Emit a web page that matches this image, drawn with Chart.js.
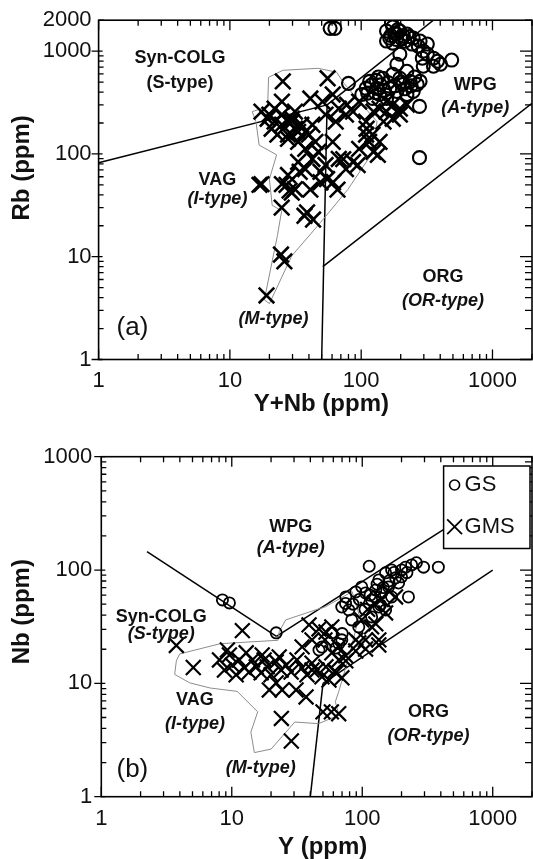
<!DOCTYPE html>
<html>
<head>
<meta charset="utf-8">
<script src="https://cdn.jsdelivr.net/npm/chart.js@4.4.1/dist/chart.umd.min.js"></script>
<style>
  html, body { margin: 0; padding: 0; background: #fff; overflow: hidden; }
  #wrap { position: relative; width: 533px; height: 859px; }
  canvas { position: absolute; left: 0; }
</style>
</head>
<body>
<div id="wrap">
  <canvas id="chartA" width="533" height="430" style="top:0"></canvas>
  <canvas id="chartB" width="533" height="429" style="top:430px"></canvas>
</div>
<script>
// Pearce granite discrimination plots: (a) Rb vs Y+Nb, (b) Nb vs Y

const FONT = '"Liberation Sans", Arial, Helvetica, sans-serif';

// ---- panel (a): Rb vs Y+Nb ----
const xTicksA = [1, 10, 100, 1000];
const yTicksA = [1, 10, 100, 1000, 2000];

const gsA = [
  [58, 1667], [63, 1667], [156, 1571], [174, 1716], [165, 1341], [187, 1468], [204, 1312],
  [174, 1198], [156, 1253], [197, 1571], [223, 1468], [249, 1341], [244, 1172], [272, 1120],
  [281, 1253], [297, 1000], [319, 935], [292, 854], [355, 854], [381, 798], [402, 746],
  [355, 713], [297, 713], [489, 819], [319, 1172], [197, 935], [187, 746], [116, 508],
  [131, 434], [109, 434], [122, 346], [146, 544], [138, 379], [165, 434], [156, 346],
  [101, 379], [174, 595], [197, 544], [208, 475], [223, 637], [236, 508], [249, 405],
  [267, 475], [223, 379], [187, 405], [281, 508], [80, 486], [278, 290], [278, 92], [170, 1877],
  [180, 1500], [190, 1620], [210, 1400], [168, 1420], [215, 1250], [232, 1390], [185, 1300],
  [120, 470], [130, 520], [140, 470], [150, 415], [128, 395], [160, 495], [112, 390], [135, 560],
  [180, 460], [200, 500], [215, 430], [240, 460], [255, 560]
];

const gmsA = [
  [25.3, 508], [55.5, 544], [17.4, 258], [19.4, 220], [21.9, 276], [24.9, 241], [27.7, 206],
  [24.9, 323], [31.3, 258], [20.8, 176], [27.7, 154], [33.1, 131], [31.3, 176], [37.5, 164],
  [42.5, 192], [37.5, 112], [44.8, 131], [41.0, 346], [50.8, 323], [60.7, 379], [53.5, 241],
  [67.5, 276], [64.0, 206], [76.5, 241], [17.4, 50.8], [24.9, 50.8], [27.7, 62.3], [31.3, 45.4],
  [33.1, 83.5], [37.5, 71.3], [42.5, 89.3], [47.2, 105], [53.5, 78.0], [60.7, 131], [67.5, 89.3],
  [76.5, 71.3], [86.7, 83.5], [96.5, 112], [109, 154], [115, 131], [124, 105], [86.7, 258],
  [96.5, 323], [109, 206], [124, 258], [138, 276], [156, 323], [197, 276], [148, 206],
  [78, 302], [110, 176], [122, 154], [138, 131], [134, 98], [156, 258], [174, 302], [223, 302],
  [73, 89], [34, 67], [41, 45], [49, 53], [24.8, 30], [27, 50], [29.6, 42], [38.7, 27],
  [43, 23], [24.5, 10.5], [26, 9], [19, 4.2], [61, 53], [66, 45], [49, 67], [55, 57], [94, 78],
  [37, 25], [28.5, 44], [16.8, 50], [21.9, 206], [24.9, 192], [29.7, 220], [33.1, 164],
  [27.7, 140], [23.0, 154], [29.7, 206], [35.0, 192], [40, 154], [20, 241], [174, 220], [197, 241]
];

// grey outline around the GMS field
const envelopeA = [
  [19.7, 556], [25.3, 651], [47, 681], [65, 623], [74, 486], [97, 323], [132, 206], [119, 98],
  [79, 45], [49, 21.5], [29.6, 10.2], [20, 3.5], [18.3, 3.8], [23, 16], [24.8, 28], [21, 31.6],
  [20, 57], [22.7, 98], [16.7, 122], [15.8, 206], [14.8, 258], [19.4, 289], [19.7, 556]
];

// field boundaries
const boundsA = [
  [[1, 82], [55, 300]],
  [[50, 1], [55, 300]],
  [[55, 300], [355, 2000]],
  [[51, 8], [2000, 310]]
];

const labelsA = [
  { text: 'Syn-COLG', x: 4.16, y: 857 },
  { text: '(S-type)', x: 4.16, y: 489 },
  { text: 'VAG', x: 8.03, y: 55.7 },
  { text: '(I-type)', x: 8.03, y: 36.7, italic: true },
  { text: 'WPG', x: 740, y: 468 },
  { text: '(A-type)', x: 740, y: 279, italic: true },
  { text: 'ORG', x: 420, y: 6.36 },
  { text: '(OR-type)', x: 420, y: 3.73, italic: true },
  { text: '(M-type)', x: 21.5, y: 2.45, italic: true },
  { text: '(a)', x: 1.81, y: 2.03, panel: true }
];

// ---- panel (b): Nb vs Y ----
const xTicksB = [1, 10, 100, 1000];
const yTicksB = [1, 10, 100, 1000];

const gsB = [
  [8.48, 54.5], [9.59, 51.3], [21.9, 27.9], [113, 108], [74.8, 57.9], [89.2, 64.1], [99.1, 71.0],
  [69.7, 47.2], [78.9, 44.5], [134, 81.8], [151, 94.4], [168, 100], [180, 85.3], [159, 71.0],
  [190, 76.9], [141, 62.8], [118, 54.5], [134, 47.2], [168, 57.9], [106, 62.8], [83.0, 36.3],
  [94.0, 31.5], [118, 38.6], [151, 44.5], [69.7, 24.2], [49.1, 20.9], [62.8, 20.5], [215, 106],
  [239, 111], [260, 116], [295, 106], [383, 106], [226, 57.9], [200, 87.1], [127, 66.7],
  [138, 49.2], [58.5, 27.9], [46.6, 19.7], [74.5, 50.7], [66.1, 22.4], [70.2, 27.5],
  [85, 50], [95, 55], [105, 45], [115, 60], [125, 58], [145, 70], [160, 80], [175, 95],
  [130, 75], [200, 100], [220, 95]
];

const gmsB = [
  [3.76, 21.6], [5.07, 13.8], [12.05, 29.2],
  [8.05, 16.1], [8.79, 13.1], [9.59, 17.8], [10.1, 14.5], [10.8, 11.9], [11.4, 16.1], [12.5, 13.7],
  [13.6, 12.6], [14.4, 16.1], [15.4, 14.0], [16.8, 12.4], [17.7, 16.1], [18.7, 14.0], [20.0, 11.9],
  [21.9, 15.5], [23.9, 13.1], [26.1, 14.5], [28.5, 12.6], [31.6, 16.1], [34.6, 13.7], [37.7, 11.9],
  [41.2, 15.1], [45.0, 13.1], [49.1, 11.4], [9.25, 19.7], [12.9, 18.6], [17.1, 17.8], [23.1, 17.1],
  [19.4, 8.75], [21.9, 10.1], [24.3, 8.75], [31.1, 8.75], [37.1, 7.59], [24, 4.9], [28.6, 3.1],
  [50, 5.6], [58, 5.6], [66, 5.4], [41.2, 13.1], [52.7, 14.0], [62.8, 12.4], [55.6, 10.7],
  [39.1, 32.8], [46.6, 30.2], [52.7, 28.4], [58.5, 31.5], [41.2, 24.2], [34.6, 21.0], [94.0, 22.8],
  [106, 20.1], [134, 21.8], [151, 41.8], [118, 31.5], [58.5, 18.6], [74.8, 17.5], [99.1, 36.3],
  [134, 24.2], [89.2, 24.2], [66.2, 16.1], [180, 57.9], [127, 33.5], [51.8, 24.2], [66.2, 21.0],
  [61.7, 12.9], [69.8, 11.2], [74.8, 15.8], [89.2, 19.3], [106, 24.2], [110, 45], [125, 50],
  [140, 55], [160, 65]
];

const envelopeB = [
  [3.76, 15.8], [3.99, 18.2], [8.17, 22.4], [22.6, 24.0], [23.1, 28.6], [25.9, 36.3], [36.9, 41.6],
  [52.4, 47.5], [83.6, 64.5], [95, 40], [80, 18], [66.1, 8.5], [62.2, 6.9], [66.1, 5.24],
  [46.2, 4.41], [30.4, 4.56], [20.0, 2.63], [14.9, 2.45], [14.0, 3.71], [15.8, 5.61], [11.0, 8.5],
  [6.83, 9.1], [4.77, 10.1], [3.65, 12.0], [3.76, 15.8]
];

const boundsB = [
  [[2.24, 145], [22, 26]],
  [[22, 26], [1000, 430]],
  [[40, 1], [50, 10]],
  [[50, 10], [1000, 100]]
];

const labelsB = [
  { text: 'WPG', x: 28.3, y: 242 },
  { text: '(A-type)', x: 28.3, y: 156, italic: true },
  { text: 'Syn-COLG', x: 2.88, y: 38.5 },
  { text: '(S-type)', x: 2.88, y: 27.5, italic: true },
  { text: 'VAG', x: 5.22, y: 7.15 },
  { text: '(I-type)', x: 5.22, y: 4.41, italic: true },
  { text: 'ORG', x: 322, y: 5.62 },
  { text: '(OR-type)', x: 322, y: 3.46, italic: true },
  { text: '(M-type)', x: 16.7, y: 1.80, italic: true },
  { text: '(b)', x: 1.73, y: 1.73, panel: true }
];

const seriesNames = ['GS', 'GMS'];

// ---- helpers ----
const toXY = arr => arr.map(p => ({ x: p[0], y: p[1] }));

function pointSets(gs, gms, big) {
  return [
    {
      label: seriesNames[0], data: toXY(gs), showLine: false,
      pointStyle: 'circle', pointRadius: big ? 6.5 : 5.6, borderWidth: big ? 2.1 : 1.8,
      borderColor: '#000', backgroundColor: 'rgba(0,0,0,0)'
    },
    {
      label: seriesNames[1], data: toXY(gms), showLine: false,
      pointStyle: 'crossRot', pointRadius: big ? 11 : 10.5, borderWidth: big ? 2.6 : 2.2,
      borderColor: '#000', backgroundColor: 'rgba(0,0,0,0)'
    }
  ];
}

function lineSets(envelope, bounds) {
  const sets = [{
    label: 'envelope', data: toXY(envelope), showLine: true, pointRadius: 0,
    borderColor: '#8c8c8c', borderWidth: 1, tension: 0, fill: false
  }];
  bounds.forEach((seg, i) => sets.push({
    label: 'boundary ' + i, data: toXY(seg), showLine: true, pointRadius: 0,
    borderColor: '#000', borderWidth: 1.5, tension: 0, fill: false
  }));
  return sets;
}

function logAxis(tickList, max, pad, fit) {
  return {
    type: 'logarithmic', min: 1, max: max,
    grid: { display: false, drawTicks: false },
    border: { display: false },
    afterBuildTicks: s => { s.ticks = tickList.map(v => ({ value: v })); },
    afterFit: fit,
    ticks: {
      font: { family: FONT, size: 22 }, color: '#111', padding: pad,
      autoSkip: false, maxRotation: 0, callback: v => String(v)
    }
  };
}

// frame, inward log ticks, text annotations and legend
const decor = {
  id: 'decor',
  afterDatasetsDraw(chart, args, opts) {
    const { ctx, scales: { x, y } } = chart;
    ctx.save();
    ctx.fillStyle = '#111';
    ctx.textAlign = 'center';
    ctx.textBaseline = 'middle';
    opts.labels.forEach(l => {
      ctx.font = l.panel ? `26px ${FONT}` : `${l.italic ? 'italic ' : ''}bold 18px ${FONT}`;
      ctx.fillText(l.text, x.getPixelForValue(l.x), y.getPixelForValue(l.y));
    });
    ctx.restore();
  },
  afterDraw(chart, args, opts) {
    const { ctx, chartArea: a, scales: { x, y } } = chart;
    ctx.save();
    ctx.strokeStyle = '#000';
    ctx.lineWidth = 1.3;
    ctx.beginPath();
    for (let e = 0; e <= 3; e++) {
      for (let k = 1; k <= 9; k++) {
        const v = k * Math.pow(10, e);
        const major = k === 1;
        if (v <= x.max) {
          const px = x.getPixelForValue(v);
          const len = major ? 10 : 5.5;
          ctx.moveTo(px, a.bottom); ctx.lineTo(px, a.bottom - len);
          ctx.moveTo(px, a.top); ctx.lineTo(px, a.top + len);
        }
        if (v <= y.max) {
          const py = y.getPixelForValue(v);
          if (major) { ctx.moveTo(a.left - 7, py); ctx.lineTo(a.left + 4, py); }
          else { ctx.moveTo(a.left, py); ctx.lineTo(a.left + 5, py); }
          ctx.moveTo(a.right, py); ctx.lineTo(a.right - (major ? 12 : 7), py);
        }
      }
    }
    ctx.stroke();
    ctx.lineWidth = 1.6;
    ctx.strokeRect(a.left, a.top, a.right - a.left, a.bottom - a.top);

    // axis titles
    ctx.fillStyle = '#111';
    ctx.font = `bold 24px ${FONT}`;
    ctx.textAlign = 'center';
    ctx.textBaseline = 'middle';
    ctx.fillText(opts.xTitle, (a.left + a.right) / 2 + 6, a.bottom + opts.xTitleGap);
    ctx.save();
    ctx.translate(22, (a.top + a.bottom) / 2 + opts.yTitleShift);
    ctx.rotate(-Math.PI / 2);
    ctx.fillText(opts.yTitle, 0, 0);
    ctx.restore();

    // legend box
    if (opts.legend) {
      const L = opts.legend;
      ctx.fillStyle = '#fff';
      ctx.fillRect(L.left, L.top, L.width, L.height);
      ctx.lineWidth = 1.5;
      ctx.strokeRect(L.left, L.top, L.width, L.height);
      ctx.font = `22px ${FONT}`;
      ctx.textAlign = 'left';
      const sizes = [{ r: 5, w: 1.6 }, { r: 10.5, w: 1.8 }];
      chart.data.datasets.slice(0, 2).forEach((ds, i) => {
        const cy = L.top + L.rows[i];
        ctx.strokeStyle = '#000';
        ctx.fillStyle = 'rgba(0,0,0,0)';
        ctx.lineWidth = sizes[i].w;
        Chart.helpers.drawPoint(ctx, {
          pointStyle: ds.pointStyle, radius: sizes[i].r, rotation: 0, borderWidth: sizes[i].w
        }, L.left + 11, cy);
        ctx.fillStyle = '#111';
        ctx.fillText(ds.label, L.left + 21, cy);
      });
    }
    ctx.restore();
  }
};

function makeChart(id, cfg) {
  return new Chart(document.getElementById(id), {
    type: 'scatter',
    data: { datasets: pointSets(cfg.gs, cfg.gms, cfg.big).concat(lineSets(cfg.envelope, cfg.bounds)) },
    options: {
      responsive: false,
      animation: false,
      events: [],
      // markers may overhang the frame; keep the plot box fixed
      layout: { autoPadding: false, padding: { left: 0, right: 1, top: cfg.top, bottom: 0 } },
      scales: {
        x: logAxis(cfg.xTicks, 2000, cfg.xPad, s => {
          s.height = cfg.xHeight;
          s.paddingLeft = 0;
          s.paddingRight = 0;
        }),
        y: logAxis(cfg.yTicks, cfg.yMax, cfg.yPad, s => { s.width = cfg.yWidth; })
      },
      plugins: {
        legend: { display: false },
        tooltip: { enabled: false },
        decor: {
          labels: cfg.labels, xTitle: cfg.xTitle, yTitle: cfg.yTitle,
          xTitleGap: cfg.xTitleGap, yTitleShift: cfg.yTitleShift, legend: cfg.legend
        }
      }
    },
    plugins: [decor]
  });
}

makeChart('chartA', {
  gs: gsA, gms: gmsA, envelope: envelopeA, bounds: boundsA, labels: labelsA, big: true,
  xTicks: xTicksA, yTicks: yTicksA, yMax: 2000,
  top: 19.4, xHeight: 70.5, yWidth: 98.6, xPad: 8, yPad: 7,
  xTitle: 'Y+Nb (ppm)', yTitle: 'Rb (ppm)', xTitleGap: 45, yTitleShift: -22
});

makeChart('chartB', {
  gs: gsB, gms: gmsB, envelope: envelopeB, bounds: boundsB, labels: labelsB, big: false,
  xTicks: xTicksB, yTicks: yTicksB, yMax: 1000,
  top: 26.7, xHeight: 62.3, yWidth: 101.3, xPad: 9, yPad: 9,
  xTitle: 'Y (ppm)', yTitle: 'Nb (ppm)', xTitleGap: 51, yTitleShift: -15,
  legend: { left: 443.6, top: 36, width: 86.4, height: 82.5, rows: [19, 60.7] }
});
</script>
</body>
</html>
